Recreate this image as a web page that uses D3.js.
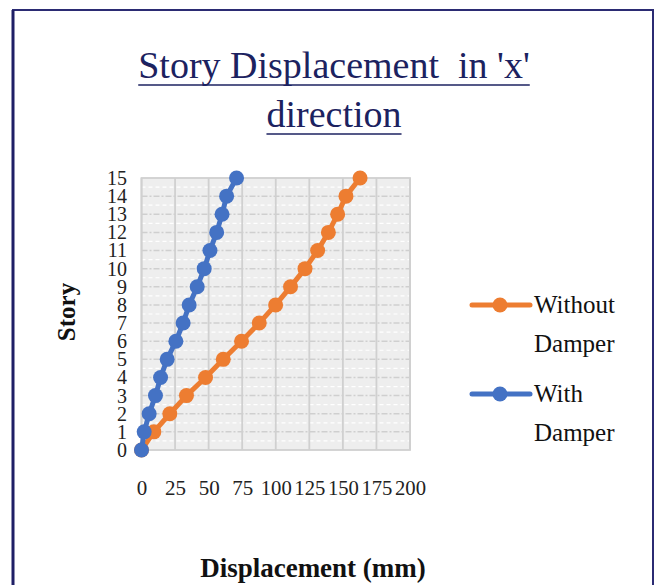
<!DOCTYPE html>
<html lang="en">
<head>
<meta charset="UTF-8" />
<script src="https://d3js.org/d3.v7.min.js"></script>
<style>
  body { margin: 0; background: #ffffff; }
</style>
</head>
<body>
<svg width="655" height="585"></svg>
<script>
// data
var stories = [0, 1, 2, 3, 4, 5, 6, 7, 8, 9, 10, 11, 12, 13, 14, 15];
var withoutDamper = [0, 9.2, 21.1, 33.5, 47.7, 60.9, 74.5, 87.7, 99.9, 111, 121.8, 131.2, 139.2, 146.1, 152.3, 162.8];
var withDamper = [0, 2, 5.7, 10.4, 14.2, 19.1, 25.6, 31, 35.5, 41.5, 46.7, 51, 56, 60, 63.4, 70.8];
var xTicks = [0, 25, 50, 75, 100, 125, 150, 175, 200];
var yTicks = [0, 1, 2, 3, 4, 5, 6, 7, 8, 9, 10, 11, 12, 13, 14, 15];
var seriesNames = [["Without", "Damper"], ["With", "Damper"]];
var seriesColors = ["#ED7D31", "#4472C4"];

var svg = d3.select("svg");
var serif = "'Liberation Serif', 'Times New Roman', serif";

// frame
svg.append("rect")
  .attr("x", 13).attr("y", 10)
  .attr("width", 640).attr("height", 600)
  .attr("fill", "none")
  .attr("stroke", "#2b2b73")
  .attr("stroke-width", 2);
svg.append("line")
  .attr("x1", 13).attr("y1", 10).attr("x2", 13).attr("y2", 585)
  .attr("stroke", "#1f1f66").attr("stroke-width", 3);

// title
var titleLines = ["Story Displacement  in 'x'", "direction"];
titleLines.forEach(function(t, i) {
  var txt = svg.append("text")
    .attr("x", 334).attr("y", 78 + i * 49)
    .attr("text-anchor", "middle")
    .attr("font-family", serif)
    .attr("font-size", 38)
    .attr("fill", "#1c2260")
    .style("white-space", "pre")
    .attr("xml:space", "preserve")
    .text(t);
  var w = txt.node().getComputedTextLength();
  svg.append("line")
    .attr("x1", 334 - w / 2).attr("x2", 334 + w / 2)
    .attr("y1", 85 + i * 49).attr("y2", 85 + i * 49)
    .attr("stroke", "#1c2260").attr("stroke-width", 1.5);
});

// scales
var x = d3.scaleLinear().domain([0, 200]).range([141.5, 410]);
var y = d3.scaleLinear().domain([0, 15]).range([450, 178]);

// plot background
svg.append("rect")
  .attr("x", x(0)).attr("y", y(15))
  .attr("width", x(200) - x(0)).attr("height", y(0) - y(15))
  .attr("fill", "#eeeeee");

// minor horizontal gridlines (white dashes)
var g = svg.append("g");
g.selectAll(".minor")
  .data(d3.range(0.5, 15, 1))
  .enter().append("line")
  .attr("x1", x(0)).attr("x2", x(200))
  .attr("y1", function(d) { return y(d); })
  .attr("y2", function(d) { return y(d); })
  .attr("stroke", "#ffffff")
  .attr("stroke-width", 1.2)
  .attr("stroke-dasharray", "4,3");

// major horizontal gridlines
g.selectAll(".hmajor")
  .data(yTicks.slice(1, 15))
  .enter().append("line")
  .attr("x1", x(0)).attr("x2", x(200))
  .attr("y1", function(d) { return y(d); })
  .attr("y2", function(d) { return y(d); })
  .attr("stroke", "#cfcfcf")
  .attr("stroke-width", 1.5)
  .attr("stroke-dasharray", "6,2,2,2");

// vertical gridlines
g.selectAll(".vmajor")
  .data(xTicks)
  .enter().append("line")
  .attr("x1", function(d) { return x(d); })
  .attr("x2", function(d) { return x(d); })
  .attr("y1", y(15)).attr("y2", y(0))
  .attr("stroke", "#d0d0d0")
  .attr("stroke-width", 1.8);

svg.append("rect")
  .attr("x", x(0)).attr("y", y(15))
  .attr("width", x(200) - x(0)).attr("height", y(0) - y(15))
  .attr("fill", "none")
  .attr("stroke", "#d0d0d0")
  .attr("stroke-width", 1.8);

// axes
var xAxis = svg.append("g")
  .attr("transform", "translate(0," + 480 + ")")
  .call(d3.axisBottom(x).tickValues(xTicks).tickSize(0).tickPadding(0));
xAxis.select(".domain").remove();
xAxis.selectAll("text")
  .attr("font-family", serif)
  .attr("font-size", 21)
  .attr("fill", "#222")
  .attr("textLength", function(d) { return d >= 100 ? 31 : null; })
  .attr("lengthAdjust", "spacingAndGlyphs");

var yAxis = svg.append("g")
  .attr("transform", "translate(" + 127 + ",0)")
  .call(d3.axisLeft(y).tickValues(yTicks).tickSize(0).tickPadding(0));
yAxis.select(".domain").remove();
yAxis.selectAll("text")
  .attr("font-family", serif)
  .attr("font-size", 20)
  .attr("fill", "#222")
  .attr("dy", "0.32em");

// axis titles
svg.append("text")
  .attr("transform", "translate(75,312) rotate(-90)")
  .attr("text-anchor", "middle")
  .attr("font-family", serif)
  .attr("font-weight", "bold")
  .attr("font-size", 25)
  .attr("fill", "#111")
  .text("Story");

svg.append("text")
  .attr("x", 313).attr("y", 577)
  .attr("text-anchor", "middle")
  .attr("font-family", serif)
  .attr("font-weight", "bold")
  .attr("font-size", 27)
  .attr("fill", "#111")
  .text("Displacement (mm)");

// series
var series = [withoutDamper, withDamper];
var line = d3.line()
  .x(function(d) { return x(d[0]); })
  .y(function(d) { return y(d[1]); });

series.forEach(function(vals, k) {
  var pts = vals.map(function(v, i) { return [v, stories[i]]; });
  var sg = svg.append("g");
  sg.append("path")
    .datum(pts)
    .attr("d", line)
    .attr("fill", "none")
    .attr("stroke", seriesColors[k])
    .attr("stroke-width", 5)
    .attr("stroke-linejoin", "round");
  sg.selectAll("circle")
    .data(pts)
    .enter().append("circle")
    .attr("cx", function(d) { return x(d[0]); })
    .attr("cy", function(d) { return y(d[1]); })
    .attr("r", 7.5)
    .attr("fill", seriesColors[k]);
});

// legend
var legendY = [305, 394];
seriesNames.forEach(function(name, k) {
  var ly = legendY[k];
  svg.append("line")
    .attr("x1", 472).attr("x2", 530)
    .attr("y1", ly).attr("y2", ly)
    .attr("stroke", seriesColors[k])
    .attr("stroke-width", 5)
    .attr("stroke-linecap", "round");
  svg.append("circle")
    .attr("cx", 500).attr("cy", ly).attr("r", 7.5)
    .attr("fill", seriesColors[k]);
  name.forEach(function(t, j) {
    svg.append("text")
      .attr("x", 534).attr("y", ly + 8 + j * 39)
      .attr("font-family", serif)
      .attr("font-size", 25)
      .attr("fill", "#111")
      .text(t);
  });
});
</script>
</body>
</html>
